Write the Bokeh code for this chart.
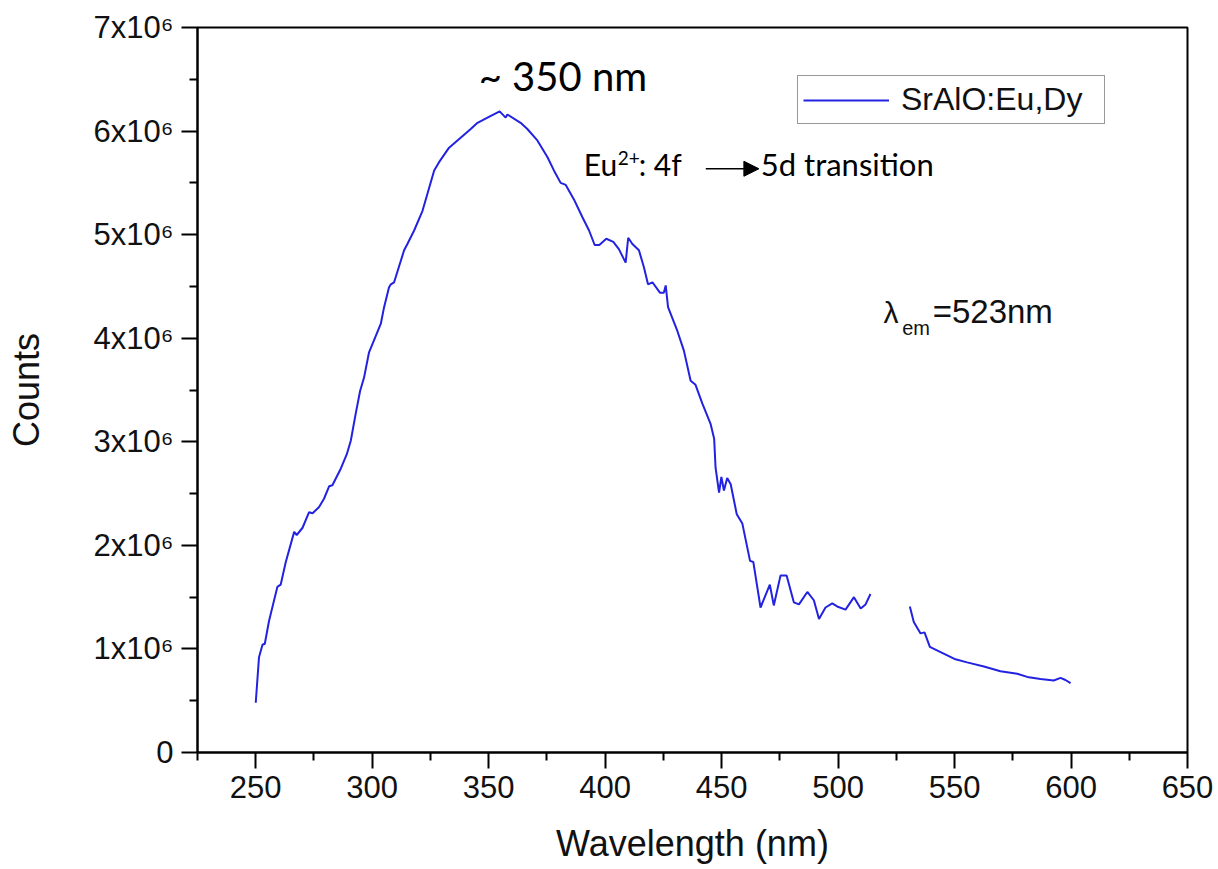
from bokeh.plotting import figure
from bokeh.models import Range1d, FixedTicker, Label, Arrow, NormalHead, Legend, LegendItem
from bokeh.embed import file_html
from bokeh.resources import INLINE

NaN = float("nan")

# ---- data ----
series_name = "SrAlO:Eu,Dy"
wavelength_nm = [
    250.0, 251.4, 252.9, 253.9, 255.7, 259.3, 260.7, 262.9, 266.5, 267.6,
    270.1, 272.9, 274.4, 277.2, 279.3, 281.5, 282.9, 286.5, 289.1, 290.8,
    292.9, 294.8, 296.5, 298.6, 303.7, 305.1, 307.2, 308.0, 309.4, 313.7,
    315.1, 318.0, 321.6, 326.6, 328.7, 333.0, 336.6, 342.3, 345.2, 349.5,
    354.7, 357.3, 358.0, 363.7, 366.6, 370.9, 375.2, 378.0, 380.9, 383.1,
    386.6, 390.2, 393.1, 395.5, 397.5, 400.5, 403.5, 405.9, 408.8, 409.9,
    411.7, 414.5, 416.7, 418.4, 420.3, 423.5, 425.2, 426.0, 427.0, 431.0,
    433.8, 436.7, 438.8, 441.7, 445.3, 446.8, 447.4, 448.9, 449.9, 451.0,
    452.4, 453.9, 456.5, 458.9, 462.2, 463.6, 466.7, 470.7, 472.4, 475.3,
    477.9, 481.0, 483.2, 486.8, 489.6, 491.8, 494.6, 497.5, 499.6, 503.2,
    506.8, 509.7, 511.8, 513.9, 522.0, 530.8, 532.5, 535.4, 537.1, 539.4,
    544.0, 550.4, 555.4, 562.6, 569.7, 576.9, 581.2, 586.9, 592.6, 595.5,
    597.6, 599.8,
]
counts_1e6 = [
    0.48, 0.92, 1.04, 1.05, 1.27, 1.60, 1.62, 1.84, 2.13, 2.10,
    2.17, 2.32, 2.31, 2.37, 2.45, 2.57, 2.58, 2.74, 2.88, 3.01,
    3.27, 3.49, 3.62, 3.86, 4.14, 4.30, 4.49, 4.52, 4.54, 4.85,
    4.91, 5.04, 5.23, 5.62, 5.70, 5.84, 5.91, 6.02, 6.08, 6.13,
    6.19, 6.13, 6.16, 6.08, 6.02, 5.91, 5.75, 5.62, 5.50, 5.48,
    5.34, 5.17, 5.04, 4.90, 4.90, 4.96, 4.93, 4.86, 4.73, 4.97,
    4.91, 4.85, 4.68, 4.52, 4.54, 4.44, 4.44, 4.51, 4.30, 4.07,
    3.88, 3.59, 3.55, 3.37, 3.17, 3.03, 2.75, 2.51, 2.66, 2.53,
    2.65, 2.59, 2.30, 2.21, 1.85, 1.84, 1.40, 1.62, 1.42, 1.71,
    1.71, 1.45, 1.43, 1.55, 1.47, 1.29, 1.40, 1.44, 1.41, 1.38,
    1.50, 1.39, 1.43, 1.53, NaN, 1.41, 1.26, 1.15, 1.16, 1.02,
    0.97, 0.90, 0.87, 0.83, 0.785, 0.76, 0.73, 0.71, 0.695, 0.72,
    0.70, 0.67,
]
x_major_ticks = [250, 300, 350, 400, 450, 500, 550, 600, 650]
x_minor_ticks = [225, 275, 325, 375, 425, 475, 525, 575, 625]
y_major_ticks = [0, 1000000, 2000000, 3000000, 4000000, 5000000, 6000000, 7000000]
y_minor_ticks = [500000, 1500000, 2500000, 3500000, 4500000, 5500000, 6500000]
y_tick_labels = ["0", "1x10\u2076", "2x10\u2076", "3x10\u2076", "4x10\u2076",
                 "5x10\u2076", "6x10\u2076", "7x10\u2076"]

counts = [c * 1e6 for c in counts_1e6]

AX_FONT = "Liberation Sans"
LINE_COLOR = "#2222e0"

p = figure(width=1218, height=869, output_backend="svg", toolbar_location=None,
           x_range=Range1d(225, 650), y_range=Range1d(0, 7e6),
           min_border_left=197, min_border_right=31, min_border_top=27,
           min_border_bottom=117)
p.grid.visible = False
p.background_fill_color = "white"
p.border_fill_color = "white"
p.outline_line_color = "black"
p.outline_line_width = 2

r = p.line(wavelength_nm, counts, line_color=LINE_COLOR, line_width=2)

for ax in (p.xaxis[0], p.yaxis[0]):
    ax.axis_line_width = 2
    ax.axis_line_color = "black"
    ax.major_tick_line_width = 2
    ax.minor_tick_line_width = 2
    ax.major_tick_in = 0
    ax.major_tick_out = 16
    ax.minor_tick_in = 0
    ax.minor_tick_out = 8
    ax.major_label_text_font = AX_FONT
    ax.major_label_text_font_size = "31px"
    ax.major_label_text_color = "#111111"
    ax.axis_label_text_font = AX_FONT
    ax.axis_label_text_font_size = "36px"
    ax.axis_label_text_font_style = "normal"
    ax.axis_label_text_color = "#111111"

xa = p.xaxis[0]
xa.ticker = FixedTicker(ticks=x_major_ticks, minor_ticks=x_minor_ticks)
xa.axis_label = "Wavelength (nm)"
xa.major_label_standoff = 7
xa.axis_label_standoff = 22

ya = p.yaxis[0]
ya.ticker = FixedTicker(ticks=y_major_ticks, minor_ticks=y_minor_ticks)
ya.major_label_overrides = {t: lab for t, lab in zip(y_major_ticks, y_tick_labels)}
ya.axis_label = "Counts"
ya.major_label_standoff = 8
ya.axis_label_standoff = 44

legend = Legend(items=[LegendItem(label=series_name, renderers=[r])],
                location=(600, 628), orientation="vertical",
                border_line_color="#333333", border_line_width=1.5,
                padding=5, margin=0, spacing=0,
                glyph_width=86, glyph_height=20, label_standoff=12,
                label_width=198,
                label_text_font=AX_FONT, label_text_font_size="32px",
                label_text_color="#111111",
                background_fill_color="white", background_fill_alpha=1)
p.add_layout(legend)

# ---- annotations ----
ANN_FONT = "Lato"
p.add_layout(Label(x=345.7, y=6.53e6, text="~ 350 nm", text_font=ANN_FONT,
                   text_font_size="40px", text_baseline="alphabetic", text_color="black"))
p.add_layout(Label(x=390.8, y=5.68e6, text="Eu", text_font=ANN_FONT,
                   text_font_size="30px", text_baseline="alphabetic", text_color="black"))
p.add_layout(Label(x=405.4, y=5.74e6, text="2+", text_font=ANN_FONT,
                   text_font_size="19px", text_baseline="alphabetic", text_color="black"))
p.add_layout(Label(x=414.4, y=5.68e6, text=": 4f", text_font=ANN_FONT,
                   text_font_size="30px", text_baseline="alphabetic", text_color="black"))
p.add_layout(Arrow(x_start=443.2, y_start=5.636e6, x_end=466.0, y_end=5.636e6,
                   line_width=1.5, line_color="black",
                   end=NormalHead(size=15, fill_color="black", line_color="black")))
p.add_layout(Label(x=466.8, y=5.68e6, text="5d transition", text_font=ANN_FONT,
                   text_font_size="31px", text_baseline="alphabetic", text_color="black"))

p.add_layout(Label(x=519.5, y=4.25e6, text="\u03bb", text_font=AX_FONT,
                   text_font_size="30px", text_baseline="alphabetic", text_color="#111111"))
p.add_layout(Label(x=527.5, y=4.10e6, text="em", text_font=AX_FONT,
                   text_font_size="20px", text_baseline="alphabetic", text_color="#111111"))
p.add_layout(Label(x=540.6, y=4.255e6, text="=523nm", text_font=AX_FONT,
                   text_font_size="33px", text_baseline="alphabetic", text_color="#111111"))

open("out.html", "w").write(file_html(p, INLINE))
